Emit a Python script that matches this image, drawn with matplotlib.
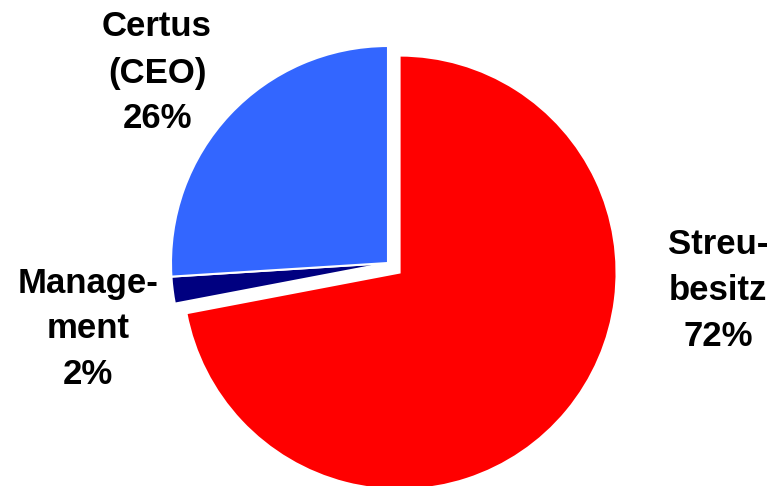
import matplotlib
matplotlib.use('Agg')
import matplotlib.pyplot as plt

# data
labels = ['Streubesitz', 'Management', 'Certus (CEO)']
shares = [72, 2, 26]
colors = ['#FF0000', '#000080', '#3366FF']

label_texts = ['Streu-\nbesitz\n72%', 'Manage-\nment\n2%', 'Certus\n(CEO)\n26%']
label_pos = [(718, 195), (88, 157), (157, 413)]

fig = plt.figure(figsize=(7.74, 4.86), dpi=100)
ax = fig.add_axes([0, 0, 1, 1])

# explode is in data units here (pixels), red slice pushed out ~15px
ax.pie(shares, colors=colors, explode=[15, 0, 0], startangle=90, counterclock=False,
       center=(388, 223), radius=217,
       wedgeprops=dict(edgecolor='white', linewidth=1.5))
ax.set_xlim(0, 774)
ax.set_ylim(0, 486)
ax.set_aspect('equal')
ax.axis('off')

for txt, (x, y) in zip(label_texts, label_pos):
    ax.text(x, y, txt, ha='center', va='center', fontsize=25, fontweight='bold',
            family='Liberation Sans', linespacing=1.5)

plt.savefig('out.png', dpi=100)
